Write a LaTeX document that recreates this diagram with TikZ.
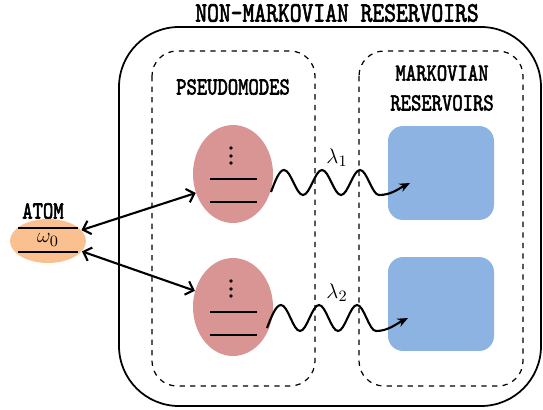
\documentclass[tikz,border=0pt]{standalone}
\usepackage{graphicx}
\usepackage{fontspec}
\usetikzlibrary{arrows.meta,positioning,shapes.geometric,calc}

\newfontfamily\capfont{lmmono10-regular.otf}[FakeBold=2.5]
\definecolor{pmred}{HTML}{D99594}
\definecolor{atomorange}{HTML}{FAC090}
\definecolor{resblue}{HTML}{8DB3E2}
\newcommand{\cond}[1]{\scalebox{0.8}[1]{#1}}

\begin{document}
\begin{tikzpicture}[x=0.02cm, y=-0.02cm,
    outerbox/.style={draw, line width=1pt, rounded corners=1.2cm},
    dashbox/.style={draw, dashed, line width=0.7pt, rounded corners=0.5cm},
    pmode/.style={ellipse, fill=pmred, minimum width=1.6cm, minimum height=1.96cm, inner sep=0pt},
    atomnode/.style={ellipse, fill=atomorange, minimum width=1.52cm, minimum height=0.88cm, inner sep=0pt},
    resnode/.style={rectangle, fill=resblue, rounded corners=0.3cm, minimum width=2.12cm, minimum height=1.88cm},
    level/.style={line width=1.2pt},
    caption/.style={font=\fontsize{14}{17}\selectfont\capfont, align=center, inner sep=0pt},
    bigcaption/.style={font=\fontsize{16}{19}\selectfont\capfont, inner sep=0pt},
    coupling/.style={{Straight Barb[length=4pt,width=8pt]}-{Straight Barb[length=4pt,width=8pt]}, line width=1.2pt},
    wave/.style={-{Stealth[length=6pt,width=5pt]}, line width=1.2pt},
    greek/.style={font=\fontsize{13}{15}\selectfont, inner sep=0pt},
]
    \useasboundingbox (0,0) rectangle (543,409);

    % Frames
    \node[bigcaption] (title) at (337,13) {\cond{NON-MARKOVIAN RESERVOIRS}};
    \draw[outerbox] (119,27) rectangle (541,406);
    \draw[dashbox] (152,51) rectangle (315,386);
    \draw[dashbox] (359,51) rectangle (523,386);
    \node[caption] (pmtitle) at (233,87) {\cond{PSEUDOMODES}};
    \node[caption] (restitle) at (442,88) {\cond{MARKOVIAN}\\\cond{RESERVOIRS}};

    % Atom
    \node[caption] (atomtitle) at (43,211) {\cond{ATOM}};
    \node[atomnode] (atom) at (48,241) {};
    \draw[level] (18,228) -- (78,228);
    \draw[level] (18,252) -- (78,252);
    \node[greek] (omega) at (48,240) {$\omega_0$};

    % Pseudomodes
    \node[pmode] (pm1) at (233,174) {};
    \node[pmode] (pm2) at (233,307) {};
    \foreach \n in {pm1,pm2} {
        \draw[level] ($(\n)+(-23,5)$) -- ++(47,0);
        \draw[level] ($(\n)+(-23,28)$) -- ++(47,0);
        \foreach \d in {-26,-18,-11}
            \fill ($(\n)+(-2,\d)$) circle (1.1pt);
    }

    % Markovian reservoirs
    \node[resnode] (res1) at (441,173) {};
    \node[resnode] (res2) at (441,304) {};

    % Couplings atom -- pseudomodes
    \draw[coupling] (atom.18) -- (pm1.207);
    \draw[coupling] (atom.-17) -- (pm2.157);

    % Couplings pseudomodes -- reservoirs
    \coordinate (w1s) at (271,192);
    \coordinate (w1e) at (410,183);
    \draw[wave] (w1s) sin ++(13,-22)
        cos ++(9.5,12.5) sin ++(9.5,12.5) cos ++(9.5,-12.5) sin ++(9.5,-12.5)
        cos ++(9.5,12.5) sin ++(9.5,12.5) cos ++(9.5,-12.5) sin ++(9.5,-12.5)
        cos ++(9.5,12.5) sin ++(9.5,12.5)
        .. controls +(12,0) and +(-12,6) .. (w1e);
    \node[greek] (lam1) at (337,158) {$\lambda_1$};

    \coordinate (w2s) at (267,328);
    \coordinate (w2e) at (408,318);
    \draw[wave] (w2s) sin ++(14,-23)
        cos ++(9.5,13) sin ++(9.5,13) cos ++(9.5,-13) sin ++(9.5,-13)
        cos ++(9.5,13) sin ++(9.5,13) cos ++(9.5,-13) sin ++(9.5,-13)
        cos ++(9.5,13) sin ++(9.5,13)
        .. controls +(12,0) and +(-12,6) .. (w2e);
    \node[greek] (lam2) at (337,293) {$\lambda_2$};
\end{tikzpicture}
\end{document}
